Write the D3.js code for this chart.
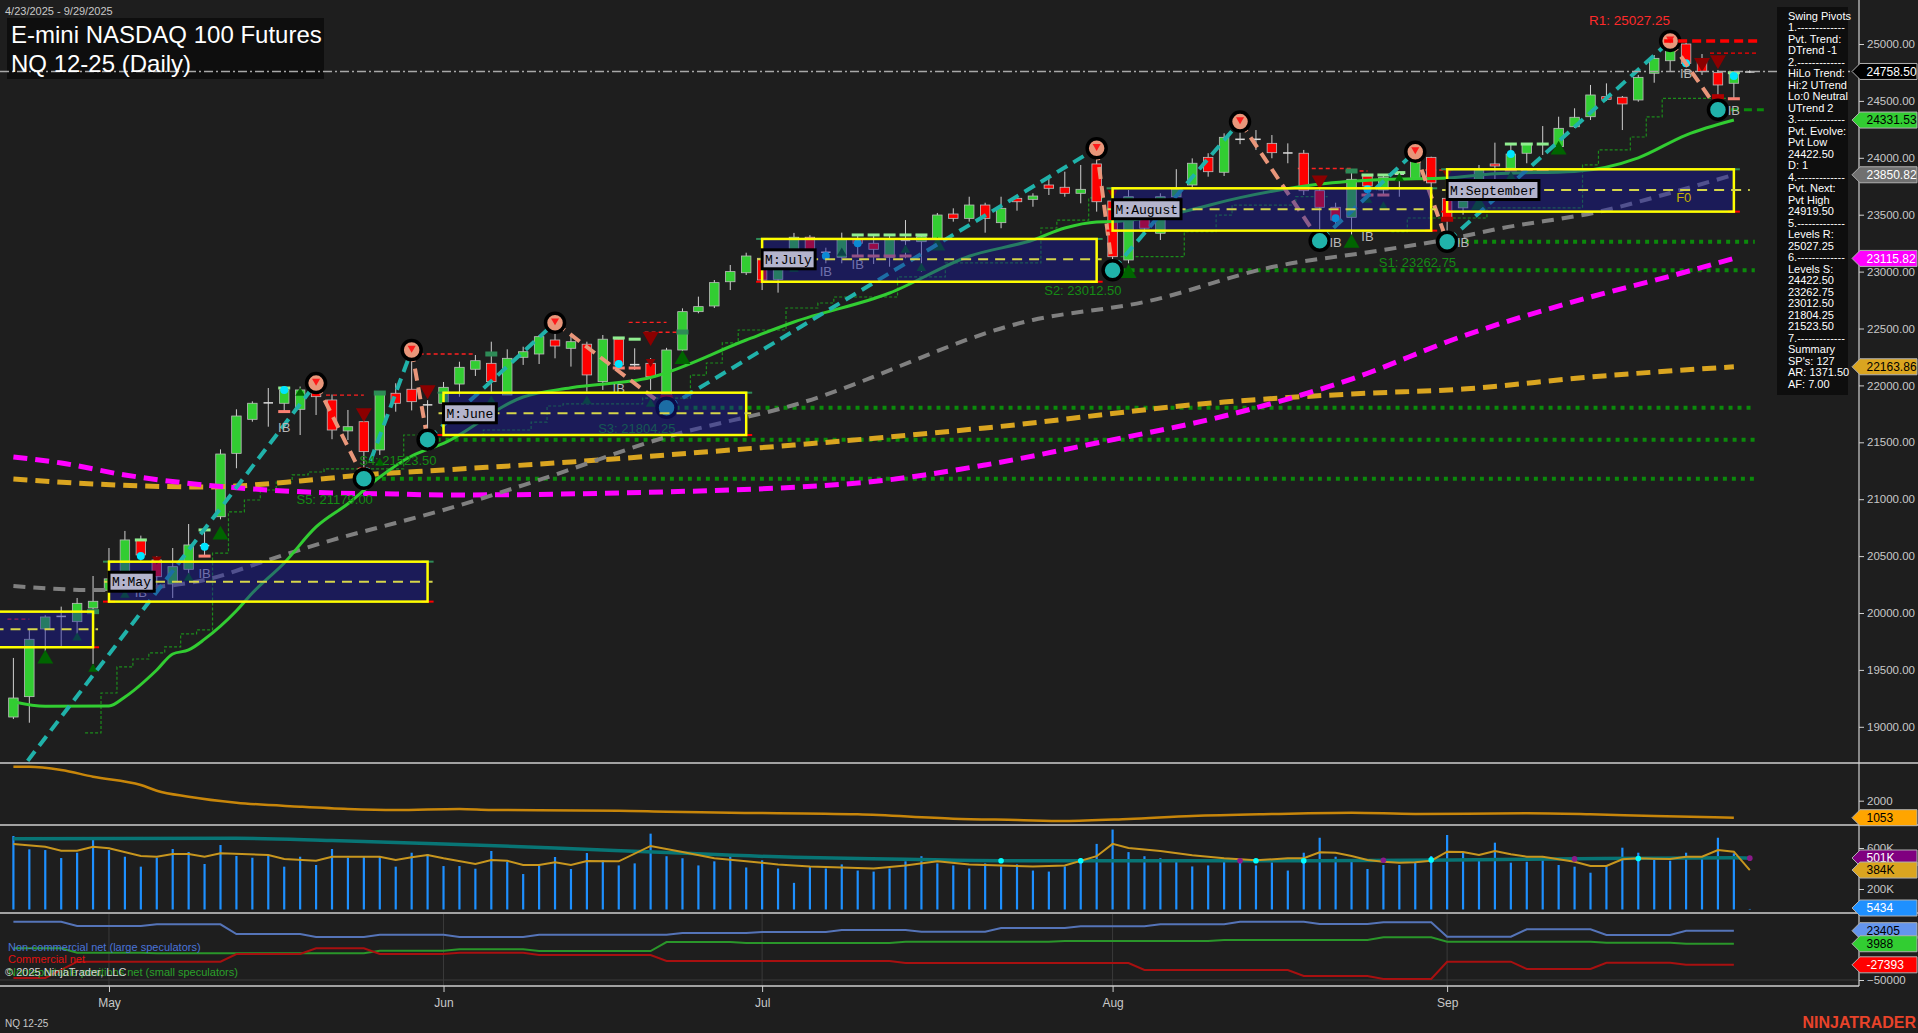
<!DOCTYPE html>
<html><head><meta charset="utf-8">
<script src="https://cdn.jsdelivr.net/npm/d3@7/dist/d3.min.js"></script>
<style>
html,body{margin:0;padding:0;background:#1e1e1e;overflow:hidden;}
svg{display:block;font-family:Arial,"Liberation Sans",sans-serif;}
</style></head>
<body><svg id="chart" width="1918" height="1033"></svg>
<script>
// ================= DATA =================
const preDates = ["2025-04-21","2025-04-22"];
const dates = ["2025-04-23","2025-04-24","2025-04-25","2025-04-28","2025-04-29","2025-04-30","2025-05-01","2025-05-02","2025-05-05","2025-05-06","2025-05-07","2025-05-08","2025-05-09","2025-05-12","2025-05-13","2025-05-14","2025-05-15","2025-05-16","2025-05-19","2025-05-20","2025-05-21","2025-05-22","2025-05-23","2025-05-27","2025-05-28","2025-05-29","2025-05-30","2025-06-02","2025-06-03","2025-06-04","2025-06-05","2025-06-06","2025-06-09","2025-06-10","2025-06-11","2025-06-12","2025-06-13","2025-06-16","2025-06-17","2025-06-18","2025-06-20","2025-06-23","2025-06-24","2025-06-25","2025-06-26","2025-06-27","2025-06-30","2025-07-01","2025-07-02","2025-07-03","2025-07-07","2025-07-08","2025-07-09","2025-07-10","2025-07-11","2025-07-14","2025-07-15","2025-07-16","2025-07-17","2025-07-18","2025-07-21","2025-07-22","2025-07-23","2025-07-24","2025-07-25","2025-07-28","2025-07-29","2025-07-30","2025-07-31","2025-08-01","2025-08-04","2025-08-05","2025-08-06","2025-08-07","2025-08-08","2025-08-11","2025-08-12","2025-08-13","2025-08-14","2025-08-15","2025-08-18","2025-08-19","2025-08-20","2025-08-21","2025-08-22","2025-08-25","2025-08-26","2025-08-27","2025-08-28","2025-08-29","2025-09-02","2025-09-03","2025-09-04","2025-09-05","2025-09-08","2025-09-09","2025-09-10","2025-09-11","2025-09-12","2025-09-15","2025-09-16","2025-09-17","2025-09-18","2025-09-19","2025-09-22","2025-09-23","2025-09-24","2025-09-25","2025-09-26","2025-09-29"];

const opens  = [19086,19265,19860,19965,19924,20044,20200,20319,20640,20466,20255,20384,20590,20846,21403,21702,21843,21843,21790,21945,21872,21600,21681,21433,21931,21966,21830,21843,22012,22142,22194,21916,22247,22276,22399,22326,22362,22033,22406,22180,22194,21887,22311,22648,22698,22911,22990,23117,22932,23146,23302,23165,23126,23284,23249,23126,23270,23263,23284,23506,23468,23585,23430,23644,23635,23761,23741,23688,23946,23620,23102,23594,23337,23658,23761,24004,23873,24165,24160,24127,24040,24040,23711,23565,23477,23840,23717,23849,23820,24004,23644,23560,23717,23946,23908,24040,24118,24098,24273,24361,24537,24532,24508,24743,24853,25000,24845,24748,24655,24750];
const highs  = [19605,19851,19980,20056,20132,20325,20571,20721,20680,20500,20571,20782,20730,21438,21790,21860,21977,21977,21990,22020,21920,21784,21696,21945,22019,22311,21870,22030,22208,22267,22384,22317,22340,22443,22551,22443,22384,22443,22417,22326,22240,22330,22677,22780,22926,23058,23166,23140,23102,23340,23320,23210,23342,23322,23322,23322,23453,23322,23515,23556,23658,23605,23658,23673,23688,23820,23878,23937,24084,23640,23717,23629,23688,23900,23995,24040,24215,24318,24244,24200,24127,24069,23735,23605,23893,23849,23849,23878,24054,24010,23673,23660,23937,24133,24121,24130,24279,24361,24435,24640,24654,24543,24728,24903,25027.25,25010,24912,24772,24748,24770];
const lows   = [19068,19036,19660,19704,19792,19552,20120,20200,20460,20230,20132,20319,20500,20823,21272,21681,21637,21770,21564,21740,21527,21520,21179,21389,21769,21780,21523.5,21780,21900,22083,21931,21916,22180,22188,22238,22165,21945,21960,22153,22136,21960,21804.25,22296,22634,22680,22838,22970,22838,22815,23120,23137,23073,23073,23137,23067,23043,23117,23000,23219,23439,23439,23342,23381,23535,23570,23673,23658,23600,23527,23012.5,23073,23350,23278,23629,23732,23834,23840,24120,24069,23996,23952,23673,23270,23383,23307,23644,23673,23658,23805,23629,23262.75,23500,23673,23732,23893,23952,24025,24040,24262,24332,24500,24244,24493,24660,24757,24807,24728,24422.5,24519,24745];
const closes = [19253,19769,19965,19975,20085,20103,20300,20642,20510,20319,20407,20598,20595,21397,21731,21843,21850,21960,21960,21901,21608,21637,21418,21931,21843,21857,21828,21983,22159,22217,22033,22238,22296,22428,22346,22384,22092,22406,22180,22185,22076,22311,22648,22692,22903,23000,23137,22926,23087,23302,23175,23175,23284,23249,23196,23284,23278,23307,23497,23468,23585,23468,23556,23614,23664,23732,23688,23723,23614,23131,23658,23381,23658,23723,23952,23878,24180,24160,24165,24045,24045,23711,23565,23453,23811,23752,23829,23864,23966,23780,23453,23620,23893,23928,24033,24121,24122,24259,24356,24552,24514,24473,24707,24874,24947,24830,24757,24640,24736,24758.5];

// volume in thousands
const volumes = [717,587,580,502,554,694,580,515,418,505,590,561,444,629,522,505,528,418,515,434,590,505,522,522,418,554,541,424,424,398,571,466,346,431,512,395,551,480,430,450,740,520,500,430,470,520,410,480,400,260,420,400,440,380,370,400,470,520,450,430,400,450,420,440,380,370,420,500,640,780,560,520,500,480,420,430,470,480,430,460,380,554,700,515,476,395,434,434,483,522,727,554,476,652,457,466,522,434,418,359,424,603,554,500,476,554,522,700,548,5.434];
const volFast = [[0,639],[2,613],[3,574],[4,574],[5,613],[6,597],[8,522],[9,515],[10,541],[11,541],[12,515],[13,548],[16,532],[17,493],[19,476],[20,515],[23,515],[24,483],[25,509],[26,532],[27,500],[29,444],[30,483],[31,476],[32,434],[33,434],[34,460],[35,434],[36,473],[38,470],[40,620],[42,560],[44,500],[46,470],[48,440],[50,420],[52,410],[54,400],[56,430],[58,470],[60,440],[62,430],[64,420],[66,430],[68,520],[69,640],[70,600],[72,570],[74,530],[76,500],[78,480],[80,500],[81,500],[82,558],[83,553],[84,522],[85,483],[86,466],[87,457],[88,460],[89,476],[90,564],[91,560],[92,532],[93,571],[94,540],[95,515],[96,515],[97,490],[98,466],[99,424],[100,424],[101,490],[102,500],[103,495],[104,493],[105,515],[106,515],[107,580],[108,564],[109,385]];
const volSlow = [[0,690],[14,694],[20,672],[27,640],[34,600],[41,555],[49,509],[56,490],[62,476],[81,476],[95,490],[108,505],[109,501]];
const volCyanDots = [62,67,78,81,89,102];
const volPurpleDots = [77,86,98,109];

// second panel oscillator
const oscLine = [[0,3894],[1,3894],[3,3710],[5,3337],[8,2875],[9,2557],[11,2223],[14,1889],[18,1666],[21,1538],[24,1482],[28,1538],[30,1482],[38,1443],[41,1387],[45,1332],[53,1242],[59,997],[63,925],[66,869],[70,981],[74,1148],[79,1259],[84,1332],[88,1259],[95,1298],[99,1242],[103,1148],[108,1053]];

// COT net positions
const cotNonCommercial = [[0,36756],[3,36756],[4,30357],[8,30357],[9,32887],[13,32887],[14,18452],[18,18452],[19,13988],[22,13988],[23,17411],[27,17411],[28,13988],[32,13988],[33,17411],[41,17411],[42,20000],[46,20000],[47,21428],[51,21428],[52,24405],[56,24405],[57,22000],[61,22000],[62,27381],[66,27381],[67,30000],[71,30000],[72,33000],[76,33000],[77,36756],[81,36756],[82,33333],[85,33333],[86,35863],[89,35863],[90,14435],[94,14435],[95,25446],[99,25446],[100,16964],[104,16964],[105,23405],[108,23405]];
const cotCommercial = [[0,-47024],[2,-47024],[4,-22768],[13,-22768],[14,-11310],[18,-11310],[19,-2827],[22,-2827],[23,-11310],[27,-11310],[28,-9375],[32,-9375],[33,-12798],[40,-12798],[41,-21726],[55,-21726],[56,-24702],[70,-24702],[71,-35119],[80,-35119],[81,-44048],[85,-44048],[86,-48512],[89,-48512],[90,-22768],[94,-22768],[95,-33631],[99,-33631],[100,-24256],[104,-24256],[105,-27393],[108,-27393]];
const cotNonReportable = [[0,-2827],[3,-2827],[4,-9375],[8,-9375],[9,-10268],[22,-10268],[23,-6399],[27,-6399],[28,-4315],[32,-4315],[33,-6845],[40,-6845],[41,6548],[45,6548],[46,5000],[55,5000],[56,7000],[65,7000],[66,8000],[75,8000],[76,9524],[85,9524],[86,13542],[89,13542],[90,6994],[99,6994],[100,5506],[104,5506],[105,3988],[108,3988]];

// moving averages (index into dates, value)
const maGreen = [[0,19220],[2,19180],[6,19183],[7,19262],[9,19499],[10,19640],[11,19675],[12,19770],[14,20020],[15,20176],[17,20440],[19,20756],[21,20960],[23,21195],[25,21380],[27,21490],[32,21898],[35,21980],[40,22070],[46,22399],[49,22557],[55,22812],[60,23135],[64,23278],[66,23383],[68,23436],[69,23440],[73,23515],[77,23650],[82,23770],[86,23810],[90,23823],[93,23860],[98,23880],[102,24000],[105,24200],[108,24331.53]];
const maGray = [[0,20237],[5,20202],[9,20229],[12,20290],[16,20466],[20,20641],[24,20791],[27,20905],[33,21169],[41,21547],[49,21828],[64,22575],[71,22733],[79,23040],[86,23190],[91,23310],[93,23370],[100,23541],[104,23691],[108,23850.82]];
const maMagenta = [[0,21371],[3,21318],[7,21213],[12,21125],[16,21081],[20,21055],[24,21046],[27,21037],[38,21055],[53,21142],[61,21301],[68,21494],[76,21731],[84,22056],[91,22434],[99,22777],[104,22960],[108,23115.82]];
const maGold = [[0,21178],[5,21134],[12,21107],[14,21116],[18,21160],[22,21213],[27,21257],[35,21327],[45,21432],[49,21476],[61,21626],[76,21854],[84,21925],[91,21968],[99,22074],[108,22163.86]];
const trailStop = [[5,18946],[6,19297],[7,19526],[8,19596],[9,19649],[10,19702],[11,19816],[12,19851],[13,20527],[14,20888],[15,20993],[16,21081],[17,21151],[18,21213],[19,21239],[20,21266],[25,21564],[30,21608],[33,21678],[34,21819],[35,21837],[40,21889],[43,22091],[44,22197],[45,22373],[46,22487],[49,22680],[51,22724],[52,22777],[56,22953],[59,23076],[65,23383],[66,23453],[68,23647],[69,23647],[70,null],[70,23131],[74,23351],[76,23497],[77,23585],[81,23658],[83,23658],[84,null],[87,23351],[88,23471],[93,23560],[99,23937],[100,24069],[102,24183],[103,24359],[104,24523],[108,24523]];

// swing pivots [index (-2 = before chart), price, type]
const pivots = [[-2,18170,"L"],[19,22020,"H"],[22,21179,"L"],[25,22311,"H"],[26,21523.5,"L"],[34,22551,"H"],[41,21804.25,"L"],[68,24084,"H"],[69,23012.5,"L"],[77,24318,"H"],[82,23270,"L"],[88,24054,"H"],[90,23262.75,"L"],[104,25027.25,"H"],[107,24422.5,"L"]];
const supportLevels = [["S1",23262.75,90],["S2",23012.50,69],["S3",21804.25,41],["S4",21523.50,26],["S5",21179.00,22]];
const resistanceLevels = [["R1",25027.25,104]];
const pivotNextHigh = 24919.50;
const pivotLowLevel = [24422.50,107];
const minorResistance = [[0,1,19947],[20,22,21915],[25,29,22276],[39,41,22554],[40,42,22467],[81,84,23906],[84,85,23884],[89,90,23893]];

// monthly value areas [label, startDate, endDate, high, low, mid]
const monthBoxes = [
  ["M:April","2025-04-21","2025-04-30",20012,19699,19857],
  ["M:May","2025-05-01","2025-05-30",20451,20100,20275],
  ["M:June","2025-06-02","2025-06-30",21936,21564,21755],
  ["M:July","2025-07-01","2025-07-31",23287,22911,23108],
  ["M:August","2025-08-01","2025-08-29",23732,23360,23548],
  ["M:September","2025-09-02","2025-09-26",23899,23527,23717]
];

// signal markers [index, price, big?]
const upSignals = [[2,19596,1],[4,19783,0],[5,19508,0],[7,20158,0],[11,20307,0],[13,20686,1],[18,21933,0],[23,21318,0],[30,21863,0],[36,21863,0],[40,21837,0],[42,22229,1],[49,23022,0],[52,23163,0],[56,23190,0],[57,23029,0],[58,23225,1],[70,22985,1],[84,23249,1],[85,23629,0],[86,23570,0],[87,23819,0],[92,23585,1],[94,23834,0],[97,24069,1]];
const downSignals = [[9,20472,0],[22,21758,1],[26,21960,1],[40,22428,1],[40,22208,0],[69,23690,0],[82,23805,1],[90,23867,0],[106,24836,1],[107,24860,1]];
const cyanDots = [[8,20501],[12,20583],[17,21960],[38,22188],[51,23137],[53,23249],[83,23468],[85,23723],[91,23673],[94,24033],[105,24830],[108,24719]];
const greenCaps = [[8,20642],[12,20730],[17,21977],[38,22417],[39,22406],[53,23322],[54,23322],[55,23322],[56,23322],[57,23322],[85,23849],[86,23849],[87,23870],[94,24121],[95,24121],[96,24121],[108,24748]];
const salmonCaps = [[8,20325],[12,20500],[17,21770],[38,22153],[39,22153],[53,23137],[54,23137],[55,23137],[56,23137],[85,23673],[86,23673],[94,23893],[95,23893],[96,23893],[108,24519]];
const darkGreenCaps = [[5,20012],[23,21933],[30,22276],[42,22469],[84,23884]];
const darkRedCaps = [[22,21257],[41,21898],[90,23460],[107,24537]];
const ibLabels = [[8,20188],[12,20349],[17,21637],[38,21975],[51,23005],[53,23067],[83,23263],[85,23313],[91,23258],[105,24743],[108,24420]];

const priceTicks = [19000,19500,20000,20500,21000,21500,22000,22500,23000,23500,24000,24500,25000];
const monthTicks = [["2025-05-01","May"],["2025-06-02","Jun"],["2025-07-01","Jul"],["2025-08-01","Aug"],["2025-09-02","Sep"]];
const lastPrice = 24758.50;

const infoLines = ["Swing Pivots","1.-------------","Pvt. Trend:","DTrend -1","2.-------------","HiLo Trend:","Hi:2 UTrend","Lo:0 Neutral","UTrend 2","3.-------------","Pvt. Evolve:","Pvt Low","24422.50","D: 1","4.-------------","Pvt. Next:","Pvt High","24919.50","5.-------------","Levels R:","25027.25","6.-------------","Levels S:","24422.50","23262.75","23012.50","21804.25","21523.50","7.-------------","Summary","SP's: 127","AR: 1371.50","AF: 7.00"];

// ================= DRAW =================
const W = 1918, H = 1033, AX = 1859;
const svg = d3.select("#chart");
svg.append("rect").attr("width", W).attr("height", H).attr("fill", "#1e1e1e");
const defs = svg.append("defs");
[["clipMain",0,763],["clipP2",764,825],["clipP3",826,913],["clipP4",914,986]].forEach(([id,t,b]) => {
  defs.append("clipPath").attr("id", id).append("rect").attr("x",0).attr("y",t).attr("width",AX).attr("height",b-t);
});

const allDates = preDates.concat(dates);
const x = d3.scalePoint().domain(allDates).range([-18.46, 1749.8]);
const xi = i => x(allDates[i + preDates.length]);
const step = x.step();
const y  = d3.scaleLinear().domain([19000, 25000]).range([726.8, 44]);
const yA = d3.scaleLinear().domain([1053, 2000]).range([817.7, 800.7]);
const yV = d3.scaleLinear().domain([0, 1000]).range([909.5, 807]);
const yC = d3.scaleLinear().domain([-50000, 23405]).range([980, 930.7]);

const main = svg.append("g").attr("clip-path", "url(#clipMain)");

// title box
svg.append("rect").attr("x",7).attr("y",18).attr("width",317).attr("height",61).attr("fill","#0e0e0e");
svg.append("line").attr("x1",0).attr("x2",AX).attr("y1",y(lastPrice)).attr("y2",y(lastPrice))
  .attr("stroke","#a8a8a8").attr("stroke-width",1.5).attr("stroke-dasharray","9,3,2,3");
svg.append("text").attr("x",11).attr("y",43).attr("fill","#ffffff").attr("font-size",24).text("E-mini NASDAQ 100 Futures");
svg.append("text").attr("x",11).attr("y",72).attr("fill","#ffffff").attr("font-size",24).text("NQ 12-25 (Daily)");
svg.append("text").attr("x",5).attr("y",15).attr("fill","#c8c8c8").attr("font-size",11).text("4/23/2025 - 9/29/2025");

// support dotted lines
supportLevels.forEach(([name, v, i]) => {
  main.append("line").attr("x1", xi(i)).attr("x2", xi(dates.length-1)+5).attr("y1", y(v)).attr("y2", y(v))
    .attr("stroke","#0b8a0b").attr("stroke-width",4).attr("stroke-dasharray","4,5");
});
main.append("line").attr("x1", xi(pivotLowLevel[1])).attr("x2", xi(dates.length-1)+14)
  .attr("y1", y(pivotLowLevel[0])).attr("y2", y(pivotLowLevel[0]))
  .attr("stroke","#0b8a0b").attr("stroke-width",3).attr("stroke-dasharray","8,5");

minorResistance.forEach(([a,b,v]) => {
  main.append("line").attr("x1", xi(a)-6).attr("x2", xi(b)).attr("y1", y(v)).attr("y2", y(v))
    .attr("stroke","#ff2020").attr("stroke-width",1.3).attr("stroke-dasharray","4,3");
});

main.append("path").datum(trailStop)
  .attr("d", d3.line().defined(d => d[1] !== null).x(d => xi(d[0]) - step/2).y(d => y(d[1])).curve(d3.curveStepAfter))
  .attr("fill","none").attr("stroke","#1c8c1c").attr("stroke-width",1.2).attr("stroke-dasharray","3,2");

// candles
const bars = dates.map((d,i) => ({d, i, o:opens[i], h:highs[i], l:lows[i], c:closes[i]}));
const cg = main.append("g");
cg.selectAll("line.wick").data(bars).join("line").attr("class","wick")
  .attr("x1", d => x(d.d)).attr("x2", d => x(d.d)).attr("y1", d => y(d.h)).attr("y2", d => y(d.l))
  .attr("stroke","#cfcfcf").attr("stroke-width",1);
const bw = 9.5;
cg.selectAll("rect.body").data(bars.filter(d => Math.abs(y(d.o)-y(d.c)) >= 2)).join("rect").attr("class","body")
  .attr("x", d => x(d.d)-bw/2).attr("width", bw)
  .attr("y", d => y(Math.max(d.o,d.c))).attr("height", d => Math.abs(y(d.o)-y(d.c)))
  .attr("fill", d => d.c >= d.o ? "#32cd32" : "#ff0000").attr("stroke","#bdbdbd").attr("stroke-width",0.8);
cg.selectAll("line.doji").data(bars.filter(d => Math.abs(y(d.o)-y(d.c)) < 2)).join("line").attr("class","doji")
  .attr("x1", d => x(d.d)-bw/2).attr("x2", d => x(d.d)+bw/2).attr("y1", d => y((d.o+d.c)/2)).attr("y2", d => y((d.o+d.c)/2))
  .attr("stroke","#dcdcdc").attr("stroke-width",1.5);

function caps(arr, color, h) {
  main.selectAll(null).data(arr).join("rect")
    .attr("x", d => xi(d[0])-6).attr("width", 12).attr("y", d => y(d[1])-h/2).attr("height", h).attr("fill", color);
}
caps(greenCaps, "#90ee90", 3);
caps(salmonCaps, "#fa8072", 3);
caps(darkGreenCaps, "#2e8b57", 5);
caps(darkRedCaps, "#b00000", 5);
main.selectAll(null).data(cyanDots).join("circle").attr("cx", d => xi(d[0])).attr("cy", d => y(d[1])).attr("r", 4).attr("fill","#00e5ff");

// moving averages
const maLine = d3.line().x(d => xi(d[0])).y(d => y(d[1])).curve(d3.curveMonotoneX);
main.append("path").datum(maGold).attr("d", maLine).attr("fill","none").attr("stroke","#daa520").attr("stroke-width",5).attr("stroke-dasharray","14,8");
main.append("path").datum(maMagenta).attr("d", maLine).attr("fill","none").attr("stroke","#ff00ff").attr("stroke-width",5).attr("stroke-dasharray","14,8");
main.append("path").datum(maGray).attr("d", maLine).attr("fill","none").attr("stroke","#808080").attr("stroke-width",4).attr("stroke-dasharray","12,8");
main.append("path").datum(maGreen).attr("d", maLine).attr("fill","none").attr("stroke","#32cd32").attr("stroke-width",3);

// triangles
const triBig = d3.symbol().type(d3.symbolTriangle).size(110)();
const triSmall = d3.symbol().type(d3.symbolTriangle).size(40)();
main.selectAll(null).data(upSignals).join("path").attr("d", d => d[2] ? triBig : triSmall)
  .attr("transform", d => `translate(${xi(d[0])},${y(d[1])})`).attr("fill","#006400");
main.selectAll(null).data(downSignals).join("path").attr("d", d => d[2] ? triBig : triSmall)
  .attr("transform", d => `translate(${xi(d[0])},${y(d[1])}) rotate(180)`).attr("fill","#8b0000");

// zigzag
for (let k = 0; k < pivots.length-1; k++) {
  const a = pivots[k], b = pivots[k+1];
  main.append("line").attr("x1", xi(a[0])).attr("y1", y(a[1])).attr("x2", xi(b[0])).attr("y2", y(b[1]))
    .attr("stroke", b[2] === "H" ? "#20b2aa" : "#e9967a").attr("stroke-width",4).attr("stroke-dasharray","12,7");
}
const triTiny = d3.symbol().type(d3.symbolTriangle).size(28)();
pivots.slice(1).forEach(p => {
  const cx = xi(p[0]), cy = y(p[1]);
  main.append("circle").attr("cx",cx).attr("cy",cy).attr("r",9.5)
    .attr("fill", p[2] === "H" ? "#e9967a" : "#20b2aa").attr("stroke","#000").attr("stroke-width",3.5);
  if (p[2] === "H") main.append("path").attr("d", triTiny).attr("transform",`translate(${cx},${cy-2}) rotate(180)`).attr("fill","#ff1a1a");
});

main.selectAll(null).data(ibLabels).join("text").attr("x", d => xi(d[0])).attr("y", d => y(d[1])+5)
  .attr("text-anchor","middle").attr("font-size",13).attr("fill","#b8b8b8").text("IB");

supportLevels.forEach(([name, v, i]) => {
  main.append("text").attr("x", xi(i)+9).attr("y", y(v)+25).attr("text-anchor","end")
    .attr("font-size",13).attr("fill","#158a15").text(`${name}: ${v.toFixed(2)}`);
});

// monthly boxes
monthBoxes.forEach(([lab, s, e, hi, lo, mid]) => {
  main.append("rect").attr("x", x(s)).attr("y", y(hi)).attr("width", x(e)-x(s)).attr("height", y(lo)-y(hi))
    .attr("fill","rgb(25,25,160)").attr("fill-opacity",0.45);
});
monthBoxes.forEach(([lab, s, e, hi, lo, mid], k) => {
  const x0 = x(s), x1 = x(e);
  main.append("line").attr("x1",x0-6).attr("x2",x0+6).attr("y1",y(hi)).attr("y2",y(hi)).attr("stroke","#2e8b57").attr("stroke-width",2);
  main.append("line").attr("x1",x1-6).attr("x2",x1+6).attr("y1",y(hi)).attr("y2",y(hi)).attr("stroke","#2e8b57").attr("stroke-width",2);
  main.append("line").attr("x1",x0-6).attr("x2",x0+6).attr("y1",y(lo)).attr("y2",y(lo)).attr("stroke","#ff0000").attr("stroke-width",2);
  main.append("line").attr("x1",x1-6).attr("x2",x1+6).attr("y1",y(lo)).attr("y2",y(lo)).attr("stroke","#ff0000").attr("stroke-width",2);
  main.append("rect").attr("x", x0).attr("y", y(hi)).attr("width", x1-x0).attr("height", y(lo)-y(hi))
    .attr("fill","none").attr("stroke","#ffff00").attr("stroke-width",2.5);
  const mx1 = k === monthBoxes.length-1 ? xi(dates.length-1) : x1+5;
  main.append("line").attr("x1", x0-5).attr("x2", mx1).attr("y1", y(mid)).attr("y2", y(mid))
    .attr("stroke","#d6d64a").attr("stroke-width",2).attr("stroke-dasharray","10,7");
  if (x0 > 0) {
    const t = main.append("text").attr("x", x0+3).attr("y", y(mid)+4.5).attr("font-family","'Liberation Mono','DejaVu Sans Mono',monospace")
      .attr("font-size",13).attr("fill","#000").text(lab);
    const bb = t.node().getBBox();
    main.insert("rect", () => t.node()).attr("x", x0).attr("y", y(mid)-9.5).attr("width", bb.width+6).attr("height", 19)
      .attr("fill","#b4b4cc").attr("stroke","#000").attr("stroke-width",3);
  }
});
main.append("text").attr("x", xi(104)+6).attr("y", y(23717)+12).attr("font-size",13).attr("fill","#c8b400").text("F0");

resistanceLevels.forEach(([name, v, i]) => {
  main.append("line").attr("x1", xi(i)-6).attr("x2", xi(dates.length-1)+9).attr("y1", y(v)).attr("y2", y(v))
    .attr("stroke","#ff0000").attr("stroke-width",3.5).attr("stroke-dasharray","9,5");
  main.append("text").attr("x", xi(i)).attr("y", y(v)-16).attr("text-anchor","end").attr("font-size",13.5)
    .attr("fill","#ff2a2a").text(`${name}: ${v.toFixed(2)}`);
});
main.append("line").attr("x1", xi(106)+8).attr("x2", xi(dates.length-1)+9).attr("y1", y(pivotNextHigh)).attr("y2", y(pivotNextHigh))
  .attr("stroke","#ff0000").attr("stroke-width",1.3).attr("stroke-dasharray","4,3");

// ---------- panel 2 ----------
const p2 = svg.append("g").attr("clip-path","url(#clipP2)");
p2.append("path").datum(oscLine).attr("d", d3.line().x(d => xi(d[0])).y(d => yA(d[1])).curve(d3.curveMonotoneX))
  .attr("fill","none").attr("stroke","#c8860a").attr("stroke-width",2.5);

// ---------- panel 3 volume ----------
const p3 = svg.append("g").attr("clip-path","url(#clipP3)");
p3.selectAll(null).data(bars).join("line")
  .attr("x1", d => x(d.d)).attr("x2", d => x(d.d)).attr("y1", yV(0)).attr("y2", d => yV(volumes[d.i]))
  .attr("stroke","#1e90ff").attr("stroke-width",2.2);
p3.append("path").datum(volSlow).attr("d", d3.line().x(d => xi(d[0])).y(d => yV(d[1])).curve(d3.curveMonotoneX))
  .attr("fill","none").attr("stroke","#087575").attr("stroke-width",3.5);
p3.append("path").datum(volFast).attr("d", d3.line().x(d => xi(d[0])).y(d => yV(d[1])))
  .attr("fill","none").attr("stroke","#c8961e").attr("stroke-width",2);
const slowAt = d3.scaleLinear().domain(volSlow.map(d => d[0])).range(volSlow.map(d => d[1]));
p3.selectAll(null).data(volCyanDots).join("circle").attr("cx", d => xi(d)).attr("cy", d => yV(slowAt(d))).attr("r",2.8).attr("fill","#00ffff");
p3.selectAll(null).data(volPurpleDots).join("circle").attr("cx", d => xi(d)).attr("cy", d => yV(slowAt(d))).attr("r",2.8).attr("fill","#8a1a8a");

// ---------- panel 4 COT ----------
const p4 = svg.append("g").attr("clip-path","url(#clipP4)");
monthTicks.forEach(([d]) => {
  p4.append("line").attr("x1", x(d)).attr("x2", x(d)).attr("y1", 913).attr("y2", 986).attr("stroke","#3a3a3a").attr("stroke-width",1);
});
p4.append("line").attr("x1",0).attr("x2",AX).attr("y1",yC(-50000)).attr("y2",yC(-50000)).attr("stroke","#3a3a3a");
const cLine = d3.line().x(d => xi(d[0])).y(d => yC(d[1]));
p4.append("path").datum(cotNonCommercial).attr("d", cLine).attr("fill","none").attr("stroke","#5574b8").attr("stroke-width",2);
p4.append("path").datum(cotNonReportable).attr("d", cLine).attr("fill","none").attr("stroke","#2a962a").attr("stroke-width",2);
p4.append("path").datum(cotCommercial).attr("d", cLine).attr("fill","none").attr("stroke","#a81010").attr("stroke-width",2);
svg.append("text").attr("x",8).attr("y",950.5).attr("font-size",11).attr("fill","#4a74d8").text("Non-commercial net (large speculators)");
svg.append("text").attr("x",8).attr("y",963).attr("font-size",11).attr("fill","#e01010").text("Commercial net");
svg.append("text").attr("x",8).attr("y",975.5).attr("font-size",11).attr("fill","#2aa02a").text("Nonreportable positions net (small speculators)");
svg.append("text").attr("x",5).attr("y",975.5).attr("font-size",11).attr("fill","#d4d4d4").text("\u00a9 2025 NinjaTrader, LLC");

// ---------- separators & axes ----------
[763, 825, 913].forEach(v => svg.append("line").attr("x1",0).attr("x2",W).attr("y1",v).attr("y2",v).attr("stroke","#cfcfcf").attr("stroke-width",1.5));
svg.append("line").attr("x1",0).attr("x2",AX).attr("y1",986).attr("y2",986).attr("stroke","#cfcfcf").attr("stroke-width",1.5);
svg.append("line").attr("x1",AX).attr("x2",AX).attr("y1",0).attr("y2",986).attr("stroke","#cfcfcf").attr("stroke-width",1.2);

function styleAxis(g) {
  g.select(".domain").remove();
  g.selectAll(".tick line").attr("stroke","#cfcfcf");
  g.selectAll(".tick text").attr("fill","#c8c8c8").attr("font-size",11.5).attr("font-family","Arial,'Liberation Sans',sans-serif");
}
svg.append("g").attr("transform",`translate(${AX},0)`)
  .call(d3.axisRight(y).tickValues(priceTicks).tickFormat(d3.format(".2f")).tickSize(5).tickPadding(3)).call(styleAxis);
svg.append("g").attr("transform",`translate(${AX},0)`)
  .call(d3.axisRight(yA).tickValues([2000]).tickFormat(d3.format("d")).tickSize(5).tickPadding(3)).call(styleAxis);
svg.append("g").attr("transform",`translate(${AX},0)`)
  .call(d3.axisRight(yV).tickValues([200,600]).tickFormat(d => d + "K").tickSize(5).tickPadding(3)).call(styleAxis);
svg.append("g").attr("transform",`translate(${AX},0)`)
  .call(d3.axisRight(yC).tickValues([-50000]).tickFormat(d3.format("d")).tickSize(5).tickPadding(3)).call(styleAxis);
const monthName = Object.fromEntries(monthTicks);
svg.append("g").attr("transform","translate(0,986)")
  .call(d3.axisBottom(x).tickValues(monthTicks.map(d => d[0])).tickFormat(d => monthName[d]).tickSize(6).tickPadding(6))
  .call(g => { styleAxis(g); g.selectAll(".tick text").attr("font-size",12); });

function tag(yc, txt, fill, color) {
  const x0 = 1852, h = 8;
  svg.append("path").attr("d", `M${x0},${yc} L${x0+8},${yc-h} L${W-1},${yc-h} L${W-1},${yc+h} L${x0+8},${yc+h} Z`)
    .attr("fill", fill).attr("stroke","#b0b0b0").attr("stroke-width",1);
  svg.append("text").attr("x",1866.5).attr("y",yc+4.3).attr("font-size",12).attr("fill",color).text(txt);
}
tag(y(lastPrice), "24758.50", "#000000", "#ffffff");
tag(y(maGreen[maGreen.length-1][1]), "24331.53", "#32cd32", "#000000");
tag(y(maGray[maGray.length-1][1]), "23850.82", "#707070", "#ffffff");
tag(y(maMagenta[maMagenta.length-1][1]), "23115.82", "#ff00ff", "#ffffff");
tag(y(maGold[maGold.length-1][1]), "22163.86", "#daa520", "#000000");
tag(yA(oscLine[oscLine.length-1][1]), "1053", "#ffa500", "#000000");
tag(858, "501K", "#800080", "#ffffff");
tag(yV(volFast[volFast.length-1][1]), "384K", "#daa520", "#000000");
tag(908, "5434", "#1e90ff", "#ffffff");
tag(yC(23405), "23405", "#6495ed", "#000000");
tag(yC(3988), "3988", "#32cd32", "#000000");
tag(yC(-27393), "-27393", "#ff0000", "#ffffff");

svg.append("rect").attr("x",1777).attr("y",7).attr("width",71).attr("height",388).attr("fill","#0e0e0e");
svg.selectAll(null).data(infoLines).join("text")
  .attr("x",1788).attr("y",(d,i) => 19.5 + i*11.5).attr("font-size",11).attr("fill","#ffffff").text(d => d);

svg.append("text").attr("x",5).attr("y",1027).attr("font-size",10).attr("fill","#c8c8c8").text("NQ 12-25");
svg.append("text").attr("x",1916).attr("y",1028).attr("text-anchor","end").attr("font-size",16).attr("font-weight","bold")
  .attr("fill","#e8432a").text("NINJATRADER");
</script>
</body></html>
